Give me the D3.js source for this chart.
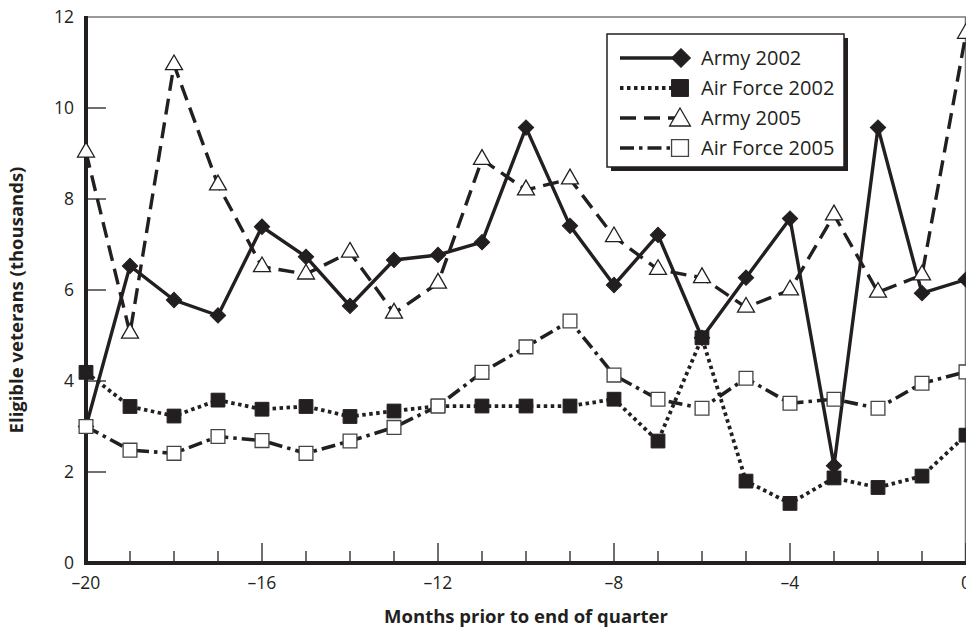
<!DOCTYPE html>
<html><head><meta charset="utf-8">
<script src="https://cdn.jsdelivr.net/npm/d3@7"></script>
<style>
html,body{margin:0;padding:0;background:#fff;overflow:hidden}
svg{display:block;font-family:"Open Sans","Noto Sans",sans-serif}
</style></head>
<body>
<svg id="chart" width="966" height="631"></svg>
<script>
const months = [-20,-19,-18,-17,-16,-15,-14,-13,-12,-11,-10,-9,-8,-7,-6,-5,-4,-3,-2,-1,0];
const army2002 = [3.0,6.53,5.78,5.44,7.39,6.73,5.65,6.66,6.77,7.05,9.57,7.41,6.11,7.21,4.95,6.27,7.57,2.14,9.57,5.93,6.23];
const airForce2002 = [4.19,3.44,3.23,3.58,3.38,3.44,3.22,3.34,3.45,3.45,3.45,3.45,3.6,2.68,4.95,1.8,1.31,1.87,1.66,1.91,2.81];
const army2005 = [9.03,5.05,10.95,8.31,6.51,6.35,6.83,5.49,6.15,8.87,8.2,8.44,7.17,6.45,6.27,5.62,6.0,7.65,5.95,6.33,11.64];
const airForce2005 = [3.0,2.48,2.41,2.78,2.69,2.41,2.68,2.98,3.45,4.19,4.75,5.32,4.13,3.6,3.4,4.06,3.51,3.6,3.4,3.95,4.2];
const seriesNames = ["Army 2002","Air Force 2002","Army 2005","Air Force 2005"];
const xTickValues = [-20,-16,-12,-8,-4,0];
const yTickValues = [0,2,4,6,8,10,12];
const xTitle = "Months prior to end of quarter";
const yTitle = "Eligible veterans (thousands)";

const INK = "#231f20";
const svg = d3.select("#chart");
const x = d3.scaleLinear().domain([-20,0]).range([86,966]);
const y = d3.scaleLinear().domain([0,12]).range([563,17]);

// frame top/right (gray)
svg.append("line").attr("x1",x(-20)).attr("x2",x(0)).attr("y1",y(12)).attr("y2",y(12))
  .attr("stroke","#777").attr("stroke-width",1.6);
svg.append("line").attr("x1",x(0)-0.5).attr("x2",x(0)-0.5).attr("y1",y(12)).attr("y2",y(0))
  .attr("stroke","#777").attr("stroke-width",1.6);

// x ticks (minor + major)
const minor = months.filter(m => !xTickValues.includes(m));
svg.append("g").selectAll("line").data(minor).join("line")
  .attr("x1",d=>x(d)).attr("x2",d=>x(d)).attr("y1",y(0)).attr("y2",y(0)-12)
  .attr("stroke",INK).attr("stroke-width",1.3);
svg.append("g").selectAll("line").data(xTickValues).join("line")
  .attr("x1",d=>x(d)).attr("x2",d=>x(d)).attr("y1",y(0)).attr("y2",y(0)-20)
  .attr("stroke",INK).attr("stroke-width",1.3);
svg.append("g").selectAll("text").data(xTickValues).join("text")
  .attr("x",d=>x(d)).attr("y",y(0)+26).attr("text-anchor","middle")
  .attr("font-size",17.5).attr("fill",INK)
  .text(d=> d<0 ? "\u2013"+Math.abs(d) : String(d));

// y ticks
svg.append("g").selectAll("line").data(yTickValues.filter(v=>v>0 && v<12)).join("line")
  .attr("x1",x(-20)).attr("x2",x(-20)+20).attr("y1",d=>y(d)).attr("y2",d=>y(d))
  .attr("stroke",INK).attr("stroke-width",1.3);
svg.append("g").selectAll("text").data(yTickValues).join("text")
  .attr("x",x(-20)-12).attr("y",d=>y(d)+6).attr("text-anchor","end")
  .attr("font-size",17.5).attr("fill",INK).text(d=>d);

// axes
svg.append("line").attr("x1",x(-20)).attr("x2",x(-20)).attr("y1",y(12)-1).attr("y2",y(0)+2)
  .attr("stroke",INK).attr("stroke-width",4);
svg.append("line").attr("x1",x(-20)-2).attr("x2",x(0)).attr("y1",y(0)).attr("y2",y(0))
  .attr("stroke",INK).attr("stroke-width",4);

// titles
svg.append("text").attr("x",526).attr("y",623).attr("text-anchor","middle")
  .attr("font-size",18.5).attr("font-weight","bold").attr("fill",INK).text(xTitle);
svg.append("text").attr("transform","translate(23,300) rotate(-90)").attr("text-anchor","middle")
  .attr("font-size",18.5).attr("font-weight","bold").attr("fill",INK).text(yTitle);

const line = d3.line().x(d=>x(d[0])).y(d=>y(d[1]));
const zipped = arr => months.map((m,i)=>[m,arr[i]]);

const series = [
  {name:seriesNames[0], data:army2002, dash:null, width:3.4, sym:d3.symbolSquare, rot:45, size:118, fill:INK, stroke:INK, sw:1},
  {name:seriesNames[2], data:army2005, dash:"16,8", width:3.4, sym:d3.symbolTriangle, rot:0, size:125, fill:"#fff", stroke:INK, sw:1.3},
  {name:seriesNames[1], data:airForce2002, dash:"3.5,3.5", width:3.8, sym:d3.symbolSquare, rot:0, size:190, fill:INK, stroke:INK, sw:1},
  {name:seriesNames[3], data:airForce2005, dash:"14,5,3.5,5", width:3.6, sym:d3.symbolSquare, rot:0, size:190, fill:"#fff", stroke:"#444", sw:1.3}
];
series.forEach(s=>{
  svg.append("path").datum(zipped(s.data)).attr("d",line).attr("fill","none")
    .attr("stroke",INK).attr("stroke-width",s.width).attr("stroke-dasharray",s.dash)
    .attr("stroke-linejoin","miter");
});
series.forEach(s=>{
  svg.append("g").selectAll("path").data(zipped(s.data)).join("path")
    .attr("transform",d=>`translate(${x(d[0])},${y(d[1])}) rotate(${s.rot})`)
    .attr("d",d3.symbol().type(s.sym).size(s.size))
    .attr("fill",s.fill).attr("stroke",s.stroke).attr("stroke-width",s.sw);
});

// legend
const lg = svg.append("g");
lg.append("rect").attr("x",611).attr("y",38).attr("width",237).attr("height",133).attr("fill",INK);
lg.append("rect").attr("x",607).attr("y",34).attr("width",237).attr("height",133)
  .attr("fill","#fff").attr("stroke",INK).attr("stroke-width",1.5);
const legendOrder = [series[0],series[2],series[1],series[3]];
legendOrder.forEach((s,i)=>{
  const cy = 58 + i*30;
  lg.append("line").attr("x1",620).attr("x2",681).attr("y1",cy).attr("y2",cy)
    .attr("stroke",INK).attr("stroke-width",s.width).attr("stroke-dasharray",s.dash);
  lg.append("path").attr("transform",`translate(${s.rot?681:680},${cy+(s.sym===d3.symbolTriangle?2:0)}) rotate(${s.rot})`)
    .attr("d",d3.symbol().type(s.sym).size(s.size*1.5)).attr("fill",s.fill)
    .attr("stroke",s.stroke).attr("stroke-width",s.sw);
  lg.append("text").attr("x",701).attr("y",cy+7).attr("font-size",20).attr("fill",INK).text(s.name);
});
</script>
</body></html>
